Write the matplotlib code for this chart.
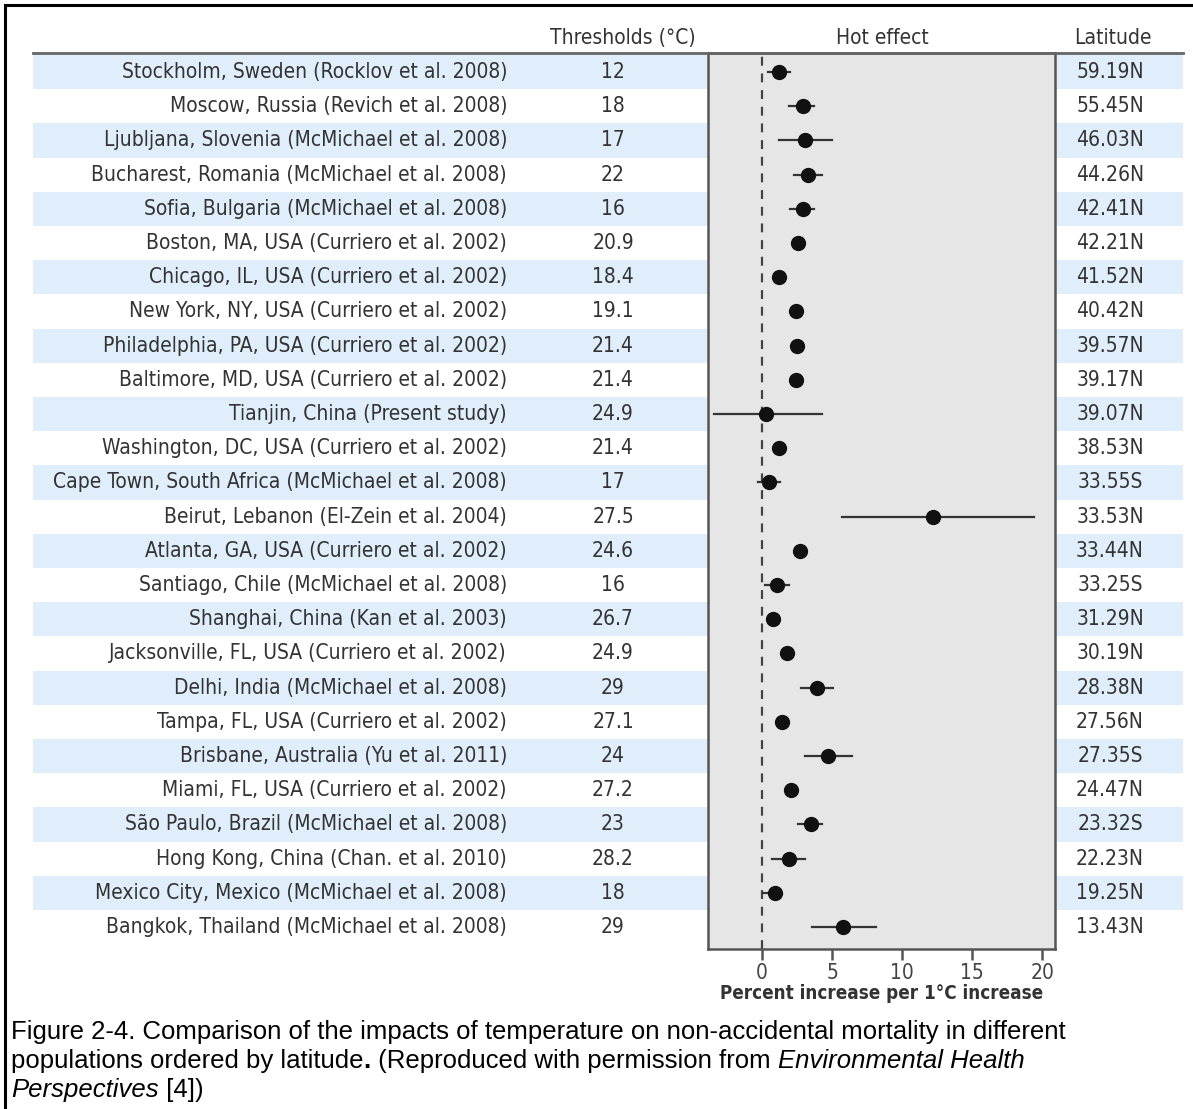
# coding:utf-8

import matplotlib
matplotlib.use("Agg")
import matplotlib.pyplot as plt
from matplotlib.patches import Rectangle

cities = [
    "Stockholm, Sweden (Rocklov et al. 2008)",
    "Moscow, Russia (Revich et al. 2008)",
    "Ljubljana, Slovenia (McMichael et al. 2008)",
    "Bucharest, Romania (McMichael et al. 2008)",
    "Sofia, Bulgaria (McMichael et al. 2008)",
    "Boston, MA, USA (Curriero et al. 2002)",
    "Chicago, IL, USA (Curriero et al. 2002)",
    "New York, NY, USA (Curriero et al. 2002)",
    "Philadelphia, PA, USA (Curriero et al. 2002)",
    "Baltimore, MD, USA (Curriero et al. 2002)",
    "Tianjin, China (Present study)",
    "Washington, DC, USA (Curriero et al. 2002)",
    "Cape Town, South Africa (McMichael et al. 2008)",
    "Beirut, Lebanon (El-Zein et al. 2004)",
    "Atlanta, GA, USA (Curriero et al. 2002)",
    "Santiago, Chile (McMichael et al. 2008)",
    "Shanghai, China (Kan et al. 2003)",
    "Jacksonville, FL, USA (Curriero et al. 2002)",
    "Delhi, India (McMichael et al. 2008)",
    "Tampa, FL, USA (Curriero et al. 2002)",
    "Brisbane, Australia (Yu et al. 2011)",
    "Miami, FL, USA (Curriero et al. 2002)",
    "São Paulo, Brazil (McMichael et al. 2008)",
    "Hong Kong, China (Chan. et al. 2010)",
    "Mexico City, Mexico (McMichael et al. 2008)",
    "Bangkok, Thailand (McMichael et al. 2008)",
]
thresholds = ["12", "18", "17", "22", "16", "20.9", "18.4", "19.1", "21.4", "21.4",
              "24.9", "21.4", "17", "27.5", "24.6", "16", "26.7", "24.9", "29", "27.1",
              "24", "27.2", "23", "28.2", "18", "29"]
latitudes = ["59.19N", "55.45N", "46.03N", "44.26N", "42.41N", "42.21N", "41.52N",
             "40.42N", "39.57N", "39.17N", "39.07N", "38.53N", "33.55S", "33.53N",
             "33.44N", "33.25S", "31.29N", "30.19N", "28.38N", "27.56N", "27.35S",
             "24.47N", "23.32S", "22.23N", "19.25N", "13.43N"]
effect = [1.2, 2.9, 3.1, 3.3, 2.9, 2.6, 1.2, 2.4, 2.5, 2.4, 0.3, 1.2, 0.5, 12.2,
          2.7, 1.1, 0.8, 1.8, 3.9, 1.4, 4.7, 2.1, 3.5, 1.9, 0.9, 5.8]
ci_low = [0.4, 1.9, 1.2, 2.3, 2.0, 2.3, 0.9, 2.1, 2.2, 2.1, -3.4, 0.9, -0.3, 5.7,
          2.4, 0.2, 0.5, 1.5, 2.8, 1.1, 3.1, 1.8, 2.6, 0.7, 0.1, 3.6]
ci_high = [2.0, 3.7, 5.0, 4.3, 3.7, 2.9, 1.5, 2.7, 2.8, 2.7, 4.3, 1.5, 1.3, 19.4,
           3.0, 1.9, 1.1, 2.1, 5.1, 1.7, 6.4, 2.4, 4.3, 3.1, 1.3, 8.1]
xticks = [0, 5, 10, 15, 20]

W, H = 1193, 1109
TXT = "#333333"
NARROW = dict(family="DejaVu Sans", stretch="condensed")

fig = plt.figure(figsize=(W / 100, H / 100), dpi=100)
n = len(cities)
rows = list(range(n))

# row units share the same vertical scale in both axes
top_px, bot_px = 53, 949
row0, step = 72, 34.2
ylim = ((bot_px - row0) / step, (top_px - row0) / step)

def fig_box(left, right):
    return [left / W, 1 - bot_px / H, (right - left) / W, (bot_px - top_px) / H]

# table background: stripes, labels, values
tab = fig.add_axes(fig_box(0, W))
tab.set_xlim(0, W)
tab.set_ylim(*ylim)
tab.axis("off")
for i in rows:
    if i % 2 == 0:
        tab.fill_between([33, 1183], i - 0.5, i + 0.5, color="#dfeefa", lw=0)
    tab.text(507, i, cities[i], ha="right", va="center", fontsize=15,
             color=TXT, **NARROW)
    tab.text(613, i, thresholds[i], ha="center", va="center", fontsize=15,
             color=TXT, **NARROW)
    tab.text(1110, i, latitudes[i], ha="center", va="center", fontsize=15,
             color=TXT, **NARROW)

# header row
fig.add_artist(plt.Line2D([33 / W, 1183 / W], [1 - 53 / H] * 2, color="#666666", lw=2))
for x, s in [(623, "Thresholds (°C)"), (882, "Hot effect"), (1113, "Latitude")]:
    fig.text(x / W, 1 - 38 / H, s, ha="center", va="center", fontsize=15,
             color=TXT, **NARROW)

# forest plot
ax = fig.add_axes(fig_box(708, 1055))
ax.set_facecolor("#e6e6e6")
ax.set_xlim(-3.85, 20.9)
ax.set_ylim(*ylim)
ax.axvline(0, color="#444444", lw=1.6, ls=(0, (4, 3.5)))
for i in rows:
    ax.plot([ci_low[i], ci_high[i]], [i, i], color="#333333", lw=1.6)
ax.plot(effect, rows, "o", color="#111111", ms=10)
for sp in ax.spines.values():
    sp.set_color("#555555")
    sp.set_linewidth(1.8)
ax.set_yticks([])
ax.set_xticks(xticks)
ax.tick_params(axis="x", direction="out", length=8, width=1.8, color="#555555",
               labelcolor="#444444", labelsize=15, pad=2)
for lab in ax.get_xticklabels():
    lab.set_family("DejaVu Sans")
    lab.set_stretch("condensed")
ax.set_xlabel("Percent increase per 1°C increase", fontsize=13.5, fontweight="bold",
              color="#333333", labelpad=1, **NARROW)

# outer frame (left and top edges)
fig.add_artist(Rectangle((5 / W, -0.1), 1.2, 1 - 5 / H + 0.1, transform=fig.transFigure,
                         fill=False, ec="black", lw=2.2))

# caption, built piece by piece to mix bold and italic
renderer = fig.canvas.get_renderer()
cap = dict(fontsize=18.5, family="Liberation Sans", color="black", va="center")
lines = [
    [("Figure 2-4. Comparison of the impacts of temperature on non-accidental mortality in different", {})],
    [("populations ordered by latitude", {}), (".", {"fontweight": "bold"}),
     (" (Reproduced with permission from ", {}),
     ("Environmental Health", {"style": "italic"})],
    [("Perspectives", {"style": "italic"}), (" [4])", {})],
]
for k, parts in enumerate(lines):
    x = 11
    y = 1 - (1032 + 29 * k) / H
    for s, extra in parts:
        t = fig.text(x / W, y, s, **cap, **extra)
        bb = t.get_window_extent(renderer)
        x += bb.width

fig.savefig("out.png", dpi=100)
